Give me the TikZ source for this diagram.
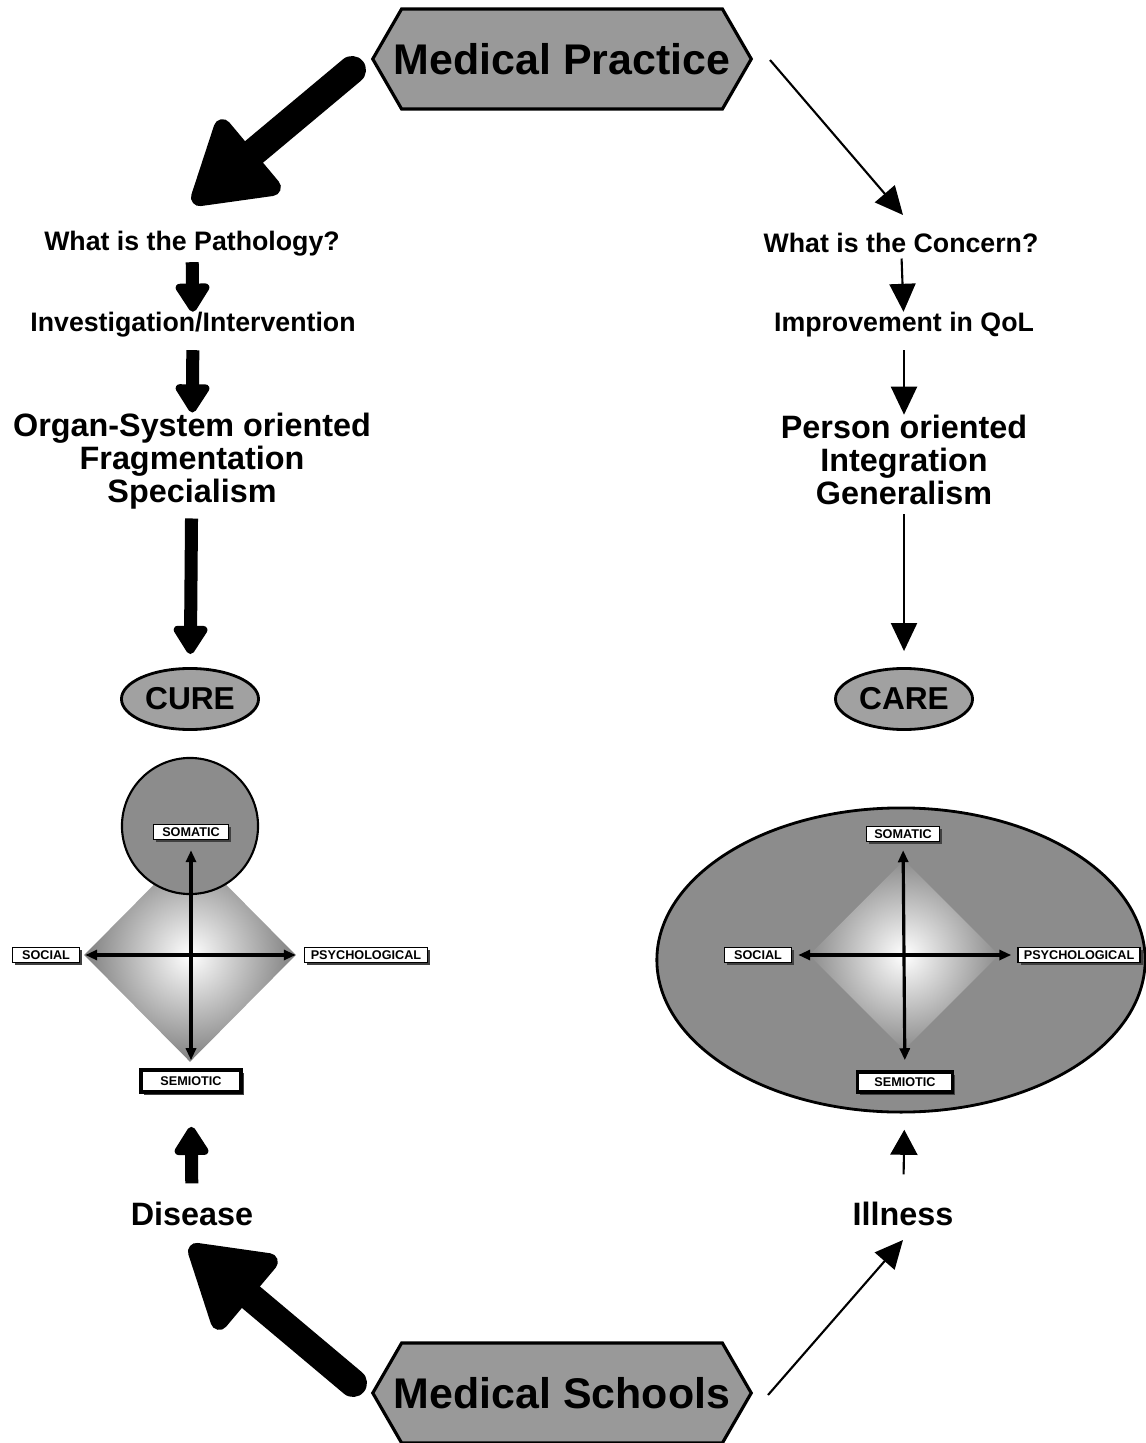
\documentclass[tikz,border=0pt]{standalone}
\usepackage{fontspec}
\setmainfont{Liberation Sans}
\usetikzlibrary{shapes.geometric,shapes.symbols,arrows.meta,shadows}

\definecolor{hexgray}{gray}{0.60}
\definecolor{ovalgray}{gray}{0.63}
\definecolor{bodygray}{gray}{0.55}

\tikzset{
  hexa/.style={signal, signal to=west and east, signal pointer angle=120, draw, line width=0.9pt,
    fill=hexgray, minimum height=1cm, inner ysep=0pt, inner xsep=-2.2pt,
    font=\bfseries\fontsize{12.2}{14}\selectfont},
  stepnote/.style={inner sep=0pt, font=\bfseries\fontsize{7.6}{9}\selectfont},
  bignote/.style={inner sep=0pt, align=center, font=\bfseries\fontsize{9.2}{9.3}\selectfont},
  oval/.style={ellipse, draw, line width=0.8pt, fill=ovalgray, minimum width=1.37cm,
    minimum height=0.61cm, inner sep=0pt, font=\bfseries\fontsize{9}{10}\selectfont},
  tag/.style={draw, line width=0.4pt, fill=white, inner sep=0pt, minimum height=0.15cm,
    font=\bfseries\fontsize{3.6}{4}\selectfont,
    drop shadow={shadow xshift=0.8pt, shadow yshift=-0.8pt, fill=black!75, opacity=1}},
  fatarrow/.style={line width=0.28cm, line cap=round,
    -{Triangle[width=1.04cm, length=0.88cm, round, line width=5pt]}},
  midarrow/.style={line width=0.13cm, -{Triangle[width=0.38cm, length=0.32cm, round, line width=2.5pt]}},
  thinarrow/.style={line width=0.6pt, -{Triangle[width=0.26cm, length=0.28cm]}},
  axis/.style={line width=0.9pt, {Triangle[width=0.1cm, length=0.12cm]}-{Triangle[width=0.1cm, length=0.12cm]}},
}

\begin{document}
\begin{tikzpicture}[x=0.01cm, y=-0.01cm]
\useasboundingbox (0,0) rectangle (1146,1443);

% top and bottom
\node[hexa] (practice) at (562,59) {Medical Practice};
\node[hexa] (schools) at (562,1393) {Medical Schools};

% left column
\node[stepnote] (patho) at (192,244) {What is the Pathology?};
\node[stepnote] (invest) at (193,325) {Investigation/Intervention};
\node[bignote] (organ) at (192,461) {Organ-System oriented\\Fragmentation\\Specialism};
\node[oval] (cure) at (190,699) {CURE};
\node[bignote] (disease) at (192,1214) {Disease};

% right column
\node[stepnote] (concern) at (901,243) {What is the Concern?};
\node[stepnote] (improve) at (904,325) {Improvement in QoL};
\node[bignote] (person) at (904,460) {Person oriented\\Integration\\Generalism};
\node[oval] (care) at (904,699) {CARE};
\node[bignote] (illness) at (903,1214) {Illness};

% left model
\node[diamond, minimum width=2.12cm, minimum height=2.14cm, inner sep=0pt,
  inner color=white, outer color=black!50] (ldia) at (190,955) {};
\node[circle, draw, line width=0.6pt, fill=bodygray, minimum size=1.36cm, inner sep=0pt] (lbody) at (190,826) {};
\node[tag, minimum width=0.75cm] (lsom) at (191,832) {SOMATIC};
\node[tag, minimum width=0.67cm] (lsoc) at (46,955) {SOCIAL};
\node[tag, minimum width=1.23cm] (lpsy) at (366,955) {PSYCHOLOGICAL};
\node[tag, minimum width=1cm, minimum height=0.22cm, line width=1pt] (lsem) at (191,1081) {SEMIOTIC};
\draw[axis, shorten <=0.1cm, shorten >=0.08cm] (lsom) -- (lsem);
\draw[axis, shorten <=0.05cm, shorten >=0.08cm] (lsoc) -- (lpsy);

% right model
\node[ellipse, draw, line width=0.8pt, fill=bodygray, minimum width=4.88cm, minimum height=3.04cm,
  inner sep=0pt] (rbody) at (901,960) {};
\node[diamond, minimum size=1.9cm, inner sep=0pt, inner color=white, outer color=bodygray] (rdia) at (904,955) {};
\node[tag, minimum width=0.73cm] (rsom) at (903,834) {SOMATIC};
\node[tag, minimum width=0.67cm] (rsoc) at (758,955) {SOCIAL};
\node[tag, minimum width=1.22cm] (rpsy) at (1079,955) {PSYCHOLOGICAL};
\node[tag, minimum width=0.95cm, minimum height=0.2cm, line width=1pt] (rsem) at (905,1082) {SEMIOTIC};
\draw[axis, shorten <=0.08cm, shorten >=0.1cm] (rsom) -- (rsem);
\draw[axis, shorten <=0.06cm, shorten >=0.06cm] (rsoc) -- (rpsy);

% free ends of the outer arrows
\coordinate (practiceL) at (352,70);
\coordinate (practiceR) at (770,60);
\coordinate (schoolsL) at (353,1383);
\coordinate (schoolsR) at (768,1395);
\coordinate (cureIn) at (193,203);
\coordinate (careIn) at (903,215);
\coordinate (diseaseIn) at (190,1246);
\coordinate (illnessIn) at (903,1240);

\draw[fatarrow] (practiceL) -- (cureIn);
\draw[fatarrow] (schoolsL) -- (diseaseIn);
\draw[thinarrow] (practiceR) -- (careIn);
\draw[thinarrow] (schoolsR) -- (illnessIn);

% steps
\draw[midarrow, shorten <=0.05cm] (patho) -- (invest);
\draw[midarrow, shorten <=0.12cm] (invest) -- (organ);
\draw[midarrow, shorten <=0.09cm, shorten >=0.13cm] (organ) -- (cure);
\draw[midarrow, shorten <=0.18cm, shorten >=0.33cm] (disease) -- (lsem);
\draw[thinarrow, shorten <=0.05cm] (concern) -- (improve);
\draw[thinarrow, shorten <=0.12cm] (improve) -- (person);
\draw[thinarrow, shorten <=0.09cm, shorten >=0.16cm] (person) -- (care);
\draw[thinarrow, -{Triangle[width=0.27cm, length=0.25cm]}, shorten <=0.27cm, shorten >=0.36cm] (illness) -- (rsem);
\end{tikzpicture}
\end{document}
